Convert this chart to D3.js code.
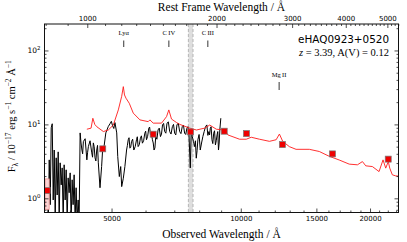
<!DOCTYPE html>
<html><head><meta charset="utf-8">
<script src="https://cdn.jsdelivr.net/npm/d3@7"></script>
<style>body{margin:0;background:#fff}svg{display:block}</style>
</head><body><svg id="c" width="407" height="242"></svg>
<script>
// ---------------- data ----------------
const redshift = 3.39;
const objectName = "eHAQ0923+0520";
const objectInfo = "3.39, A(V) = 0.12";

// observed spectrum (black)
const obsWave = [3542,3561,3580,3599,3618,3638,3657,3677,3696,3716,3736,3756,3776,3796,3817,3837,3858,3878,3899,3920,3941,3962,3983,4005,4026,4048,4069,4091,4113,4135,4157,4180,4202,
 4225,4245,4266,4282,4299,4340,4380,4398,4416,4456,4497,4516,4535,4555,4576,4597,4618,4638,4658,4700,4741,4766,4798,4849,4913,4959,4995,5030,5061,5092,5141,5169,5213,5252,5280,5326,5371,
 5420,5444,5468,5492,5517,5541,5566,5600,5635,5676,5717,5741,5766,5802,5838,5869,5900,5938,5977,6004,6031,6068,6106,6133,6161,6193,6226,6253,6280,6309,6338,6377,6417,6458,6500,6536,6572,6611,6650,6691,6732,6781,6830,6879,6929,6971,7014,7057,7101,7153,7205,7255,7306,7352,7399,7444,7490,7530,7570,7627,7668,7710,7757,7805,7840,7876,7910,7945,7996,8047,8103,8159,8218,8277,8336,8382,8428,8460,8492,8529,8567,8607,8647,8687,8728,8767,8806,8839,8873,8905,8937,8985];
const obsFlux = [1.52,0.5,3.31,0.82,9.0,10.2,0.95,4.5,0.5,3.53,1.11,4.25,0.5,3.02,1.52,2.58,0.5,2.84,0.95,2.43,0.5,1.89,1.19,2.21,0.5,1.78,0.82,2.08,0.5,1.39,0.5,0.95,0.5,
 7.67,5.6,4.5,4.0,5.86,6.4,3.31,4.2,5.01,6.0,4.12,3.6,5.62,5.0,3.53,3.2,4.5,5.2,3.02,1.39,2.69,4.5,4.8,7.67,9.34,10.2,11.0,9.5,8.8,10.58,7.67,3.67,1.97,2.69,1.44,1.87,2.69,
 4.5,5.2,6.2,6.6,4.77,4.9,5.86,6.3,4.5,5.0,6.2,6.8,5.01,5.3,6.51,7.0,5.57,6.0,7.6,8.1,6.2,6.9,8.88,9.2,7.21,7.5,6.2,5.6,4.5,4.8,6.84,6.3,8.43,8.9,6.84,7.4,9.84,10.3,7.99,7.6,10.38,10.8,7.99,7.4,9.34,10.0,7.6,7.2,9.84,10.4,7.99,7.5,9.34,9.8,7.6,7.3,8.88,9.3,7.99,2.58,8.3,6.84,5.9,5.01,6.0,3.49,4.4,6.2,7.3,4.5,5.6,6.84,8.0,9.34,9.84,7.1,7.99,7.2,8.88,9.3,6.2,5.5,7.6,8.2,5.28,6.0,7.21,8.0,4.5,5.6,8.43,12.13];

// quasar template (red)
const tmplWave = [4380,4480,4523,4570,4620,4786,4915,5048,5185,5280,5326,5360,5403,5499,5618,5823,6087,6143,6252,6539,6716,6798,6897,7084,7211,7606,7883,8241,8465,8772,9170,9334,9935,10299,10578,11057,11662,12088,12302,12522,12977,13451,14441,15235,16073,16955,17889,18695,19201,19549,20255,20991,21446,21758,22061,22231,22541,22955,23300];
const tmplFlux = [8.6,8.9,12.1,10.0,9.3,8.0,8.4,9.8,15.7,24.0,32.4,25.0,22.6,19.3,14.2,11.5,10.9,11.5,10.4,10.4,12.75,15.7,11.8,10.6,10.0,8.9,8.4,8.9,9.8,8.6,8.4,7.2,6.3,6.3,6.7,6.3,5.9,6.2,7.4,5.9,5.0,4.6,4.6,4.3,3.7,3.3,2.9,2.84,3.14,2.75,2.69,2.30,3.31,2.56,3.14,2.56,2.08,2.01,2.0];

// photometry (red squares)
const photWave = [3540,4770,6250,7640,9150,10310,12500,16350,22050];
const photFlux = [1.27,4.67,7.37,7.92,8.09,7.51,5.33,3.99,3.39];
const photErr  = [0.56,0,0,0,0,0,0,0,0];

// emission lines
const lineNames = ["Ly\u03b1","C\u2009IV","C\u2009III","Mg\u2009II"];
const lineRest  = [1216,1549,1909,2798];

// telluric band (observed Å)
const bandWave = [7550,7740];

// ticks
const obsMajor = [5000,10000,15000,20000];
const restMajor = [1000,2000,3000,4000,5000];
const yMajor = [1,10,100];
const yMajorLabel = ["0","1","2"];

// ---------------- drawing ----------------
const L=44.5,R=398.5,T=24,B=212.5;
const svg=d3.select("#c");
const x=d3.scaleLog().domain([3490,23300]).range([L,R]);
const xr=d3.scaleLog().domain([3490/(1+redshift),23300/(1+redshift)]).range([L,R]);
const y=d3.scaleLog().domain([0.643,228]).range([B,T]);

svg.append("defs").append("clipPath").attr("id","clip")
 .append("rect").attr("x",L).attr("y",T).attr("width",R-L).attr("height",B-T);
const plot=svg.append("g").attr("clip-path","url(#clip)");

// band
plot.append("rect").attr("x",x(bandWave[0])).attr("y",T).attr("width",x(bandWave[1])-x(bandWave[0])).attr("height",B-T)
 .attr("fill","#dedede");
bandWave.forEach(w=>plot.append("line").attr("x1",x(w)).attr("x2",x(w)).attr("y1",T).attr("y2",B)
 .attr("stroke","#b5b5b5").attr("stroke-width",1).attr("stroke-dasharray","3,2"));

// observed spectrum
const obs=obsWave.map((w,i)=>[w,obsFlux[i]]);
plot.append("path").datum(obs).attr("fill","none").attr("stroke","#000").attr("stroke-width",1)
 .attr("stroke-linejoin","round")
 .attr("d",d3.line().x(d=>x(d[0])).y(d=>y(d[1])));

// template
const tm=tmplWave.map((w,i)=>[w,tmplFlux[i]]);
plot.append("path").datum(tm).attr("fill","none").attr("stroke","#ff1a1a").attr("stroke-width",0.9)
 .attr("d",d3.line().x(d=>x(d[0])).y(d=>y(d[1])));

// photometry error bars
photWave.forEach((w,i)=>{
  if(photErr[i]>0){
    const y1=y(photFlux[i]+photErr[i]), y0=y(Math.max(photFlux[i]-photErr[i],0.3));
    plot.append("rect").attr("x",x(w)-2).attr("y",y1).attr("width",4).attr("height",y0-y1)
      .attr("fill","#fbd3d3").attr("stroke","#f09090").attr("stroke-width",0.8);
  }
});
// photometry squares
plot.selectAll("rect.p").data(photWave.map((w,i)=>[w,photFlux[i]])).enter().append("rect")
 .attr("class","p").attr("x",d=>x(d[0])-3).attr("y",d=>y(d[1])-3).attr("width",6).attr("height",6)
 .attr("fill","#f00000").attr("stroke","#777").attr("stroke-width",0.7);

// emission line markers
lineRest.forEach((r,i)=>{
  const xo=x(r*(1+redshift));
  const low = i===3;
  const ty = low?76:33.5, t1 = low?82:40.5, t2 = low?90:47;
  svg.append("text").attr("x",xo).attr("y",ty).attr("text-anchor","middle").attr("dominant-baseline","middle")
   .attr("font-family","Liberation Serif").attr("font-size",6.5).text(lineNames[i]);
  svg.append("line").attr("x1",xo).attr("x2",xo).attr("y1",t1).attr("y2",t2).attr("stroke","#000").attr("stroke-width",0.8);
});

// axes
const tickFont = g=>g.attr("font-family","DejaVu Sans").attr("font-size",7);
function axisG(gen,tx,ty){
  const g=svg.append("g").attr("transform",`translate(${tx},${ty})`).call(gen).call(tickFont);
  g.select(".domain").remove();
  g.selectAll(".tick line").attr("stroke","#000").attr("stroke-width",0.7);
  return g;
}
const obsMinor=d3.range(4000,24000,1000).filter(v=>!obsMajor.includes(v));
const restMinor=d3.range(800,5400,100).filter(v=>!restMajor.includes(v));
const yMinor=[];[0.1,1,10,100].forEach(d=>{for(let k=2;k<10;k++){const v=k*d;if(v>0.643&&v<228)yMinor.push(v);}});

axisG(d3.axisBottom(x).tickValues(obsMajor).tickFormat(d3.format("d")).tickSizeInner(-4).tickSizeOuter(0).tickPadding(4),0,B);
axisG(d3.axisBottom(x).tickValues(obsMinor).tickFormat("").tickSizeInner(-2).tickSizeOuter(0),0,B);
axisG(d3.axisTop(xr).tickValues(restMajor).tickFormat(d3.format("d")).tickSizeInner(-4).tickSizeOuter(0).tickPadding(3),0,T);
axisG(d3.axisTop(xr).tickValues(restMinor).tickFormat("").tickSizeInner(-2).tickSizeOuter(0),0,T);
axisG(d3.axisLeft(y).tickValues(yMajor).tickFormat("").tickSizeInner(-4).tickSizeOuter(0),L,0);
axisG(d3.axisLeft(y).tickValues(yMinor).tickFormat("").tickSizeInner(-2).tickSizeOuter(0),L,0);
axisG(d3.axisRight(y).tickValues(yMajor).tickFormat("").tickSizeInner(-4).tickSizeOuter(0),R,0);
axisG(d3.axisRight(y).tickValues(yMinor).tickFormat("").tickSizeInner(-2).tickSizeOuter(0),R,0);

// y tick labels 10^n
yMajor.forEach((v,i)=>{
  const t=svg.append("text").attr("x",L-4).attr("y",y(v)+2.8).attr("text-anchor","end")
   .attr("font-family","DejaVu Sans").attr("font-size",7.5);
  t.append("tspan").text("10");
  t.append("tspan").attr("dy",-3.5).attr("font-size",5.5).text(yMajorLabel[i]);
});

// frame
svg.append("rect").attr("x",L).attr("y",T).attr("width",R-L).attr("height",B-T)
 .attr("fill","none").attr("stroke","#111").attr("stroke-width",1);

// axis titles
svg.append("text").attr("x",(L+R)/2).attr("y",237.5).attr("text-anchor","middle")
 .attr("font-family","Liberation Serif").attr("font-size",11.5).text("Observed Wavelength / \u00c5");
svg.append("text").attr("x",(L+R)/2).attr("y",11).attr("text-anchor","middle")
 .attr("font-family","Liberation Serif").attr("font-size",11.5).text("Rest Frame Wavelength / \u00c5");

// y title
const yt=svg.append("text").attr("transform",`translate(15,${(T+B)/2-2}) rotate(-90)`).attr("text-anchor","middle")
 .attr("font-family","Liberation Serif").attr("font-size",10.5);
const parts=[["F",0],["\u03bb",1],[" / 10",0],["\u221217",-1],[" erg s",0],["\u22121",-1],[" cm",0],["\u22122",-1],[" \u00c5",0],["\u22121",-1]];
let cur=0;
parts.forEach(([s,k])=>{
  const target = k===1?2.5:(k===-1?-4:0);
  const ts=yt.append("tspan").attr("dy",target-cur).text(s);
  if(k!==0) ts.attr("font-size",7.5);
  cur=target;
});

// object labels
svg.append("text").attr("x",389).attr("y",43).attr("text-anchor","end")
 .attr("font-family","DejaVu Sans").attr("font-size",10.4).text(objectName);
const oi=svg.append("text").attr("x",389).attr("y",56).attr("text-anchor","end")
 .attr("font-family","Liberation Serif").attr("font-size",10.5);
oi.append("tspan").attr("font-style","italic").text("z");
oi.append("tspan").text(" = "+objectInfo);
</script></body></html>
